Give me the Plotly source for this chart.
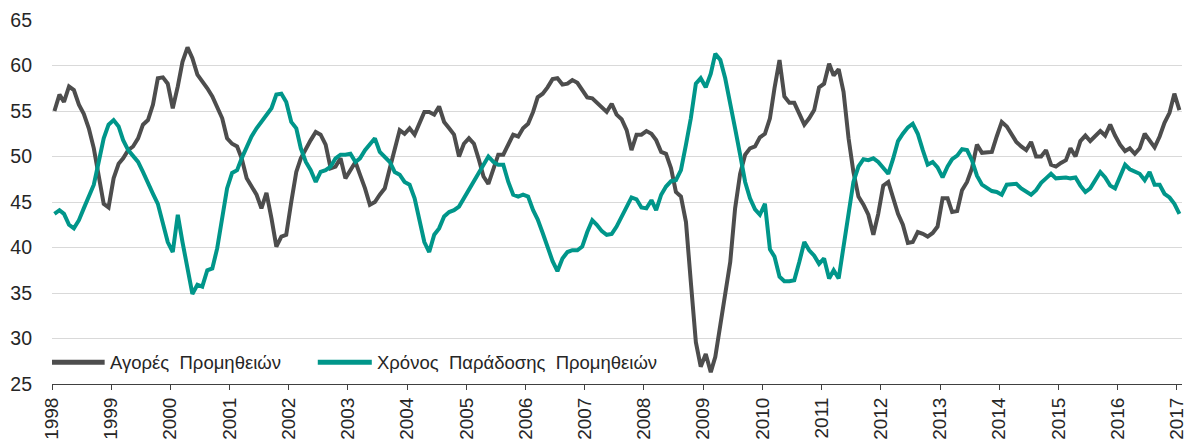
import pandas as pd
import plotly.graph_objects as go

purchases = [
    55.0, 56.8, 56.0, 57.7, 57.3, 55.7, 54.7, 53.1, 50.9, 47.6, 44.8, 44.4,
    47.6, 49.2, 49.8, 50.7, 51.1, 52.0, 53.5, 54.0, 55.7, 58.6, 58.7, 58.0,
    55.3, 57.7, 60.4, 62.0, 60.8, 59.0, 58.3, 57.5, 56.6, 55.3, 54.2, 52.0,
    51.4, 51.1, 49.8, 47.6, 46.7, 45.8, 44.3, 46.0, 43.2, 40.1, 41.2, 41.4,
    45.0, 48.3, 49.8, 50.9, 51.8, 52.7, 52.4, 51.3, 48.7, 48.9, 49.8, 47.6,
    48.5, 49.4, 48.0, 46.5, 44.7, 45.0, 45.8, 46.5, 48.7, 50.9, 52.9, 52.5,
    53.1, 52.4, 53.5, 54.9, 54.9, 54.6, 55.5, 53.8, 53.1, 52.4, 50.0, 51.4,
    52.0, 51.4, 49.8, 47.8, 47.0, 48.7, 50.2, 50.2, 51.4, 52.4, 52.2, 53.1,
    53.6, 54.9, 56.5, 56.9, 57.6, 58.5, 58.6, 57.9, 58.0, 58.4, 58.1, 57.4,
    56.5, 56.4, 55.9, 55.4, 54.9, 55.8, 54.6, 54.1, 52.9, 50.7, 52.4, 52.4,
    52.8, 52.5, 51.8, 50.5, 50.3, 48.7, 46.1, 45.6, 42.8, 36.2, 29.6, 26.9,
    28.3, 26.3, 28.0, 31.5, 35.1, 38.4, 44.3, 48.1, 50.2, 50.9, 51.1, 52.1,
    52.5, 54.2, 57.5, 60.6, 56.6, 55.9, 55.9, 54.8, 53.5, 54.2, 55.1, 57.6,
    58.0, 60.2, 58.9, 59.6, 57.1, 52.0, 48.3, 45.6, 44.7, 43.6, 41.4, 43.7,
    46.8, 47.2, 45.6, 43.7, 42.5, 40.5, 40.6, 41.7, 41.5, 41.2, 41.6, 42.3,
    45.4, 45.4, 43.9, 44.0, 46.3, 47.2, 48.7, 51.3, 50.4, 50.5, 50.5, 52.2,
    53.8, 53.3, 52.5, 51.6, 51.1, 50.7, 51.6, 50.0, 50.0, 50.7, 49.1, 48.9,
    49.3, 49.6, 50.9, 50.0, 51.7, 52.3, 51.7, 52.3, 52.8, 52.3, 53.5, 52.3,
    51.3, 50.6, 50.9, 50.3, 50.9, 52.5, 51.8, 51.0, 52.2, 53.7, 54.8, 56.9,
    55.1,
]

delivery = [
    43.7, 44.1, 43.7, 42.5, 42.1, 43.0, 44.3, 45.6, 46.9, 49.4, 52.0, 53.5,
    54.0, 53.3, 51.8, 50.7, 50.0, 49.4, 48.3, 47.0, 45.9, 44.8, 42.8, 40.6,
    39.5, 43.6, 40.6, 37.7, 34.9, 35.9, 35.7, 37.5, 37.7, 39.9, 43.6, 46.5,
    48.2, 48.5, 49.8, 51.1, 52.2, 53.1, 53.8, 54.6, 55.3, 56.8, 56.9, 56.0,
    53.8, 53.1, 50.9, 49.4, 48.5, 47.2, 48.3, 48.5, 48.9, 49.8, 50.2, 50.2,
    50.3, 49.4, 49.8, 50.7, 51.4, 52.0, 50.5, 50.0, 49.4, 48.3, 48.0, 47.2,
    46.9, 45.4, 43.2, 40.6, 39.5, 41.4, 42.1, 43.4, 43.9, 44.1, 44.5, 45.4,
    46.3, 47.4, 48.2, 49.1, 50.0, 49.4, 49.1, 49.1, 47.2, 45.8, 45.6, 45.8,
    45.6, 44.1, 43.1, 41.6, 40.0, 38.5, 37.4, 38.8, 39.5, 39.7, 39.7, 40.1,
    41.7, 43.0, 42.5, 41.8, 41.4, 41.5, 42.3, 43.4, 44.3, 45.5, 45.3, 44.4,
    44.3, 45.2, 44.1, 45.8, 46.7, 47.3, 47.4, 48.5, 51.3, 54.2, 58.0, 58.6,
    57.6, 59.1, 61.3, 60.6, 58.6, 56.0, 53.1, 50.2, 47.2, 45.4, 44.2, 43.6,
    44.8, 39.8, 39.0, 36.8, 36.3, 36.3, 36.4, 38.4, 40.6, 39.7, 39.1, 38.2,
    38.8, 36.6, 37.5, 36.6, 39.9, 43.6, 47.2, 48.9, 49.7, 49.6, 49.8, 49.4,
    48.7, 48.1, 49.7, 51.7, 52.5, 53.2, 53.6, 52.5, 50.7, 49.1, 49.4, 48.8,
    47.7, 48.9, 49.7, 50.1, 50.8, 50.7, 49.6, 47.9, 46.9, 46.6, 46.2, 46.1,
    45.8, 46.9, 47.0, 47.0, 46.5, 46.1, 45.8, 46.3, 47.1, 47.6, 48.1, 47.6,
    47.7, 47.7, 47.6, 47.7, 46.8, 46.1, 46.5, 47.5, 48.3, 47.7, 46.8, 46.5,
    47.8, 49.1, 48.6, 48.3, 48.1, 47.4, 48.3, 46.9, 46.9, 45.9, 45.5, 44.8,
    43.7,
]

series_names = ["Αγορές Προμηθειών", "Χρόνος Παράδοσης Προμηθειών"]
series_colors = ["#4d4d4d", "#00968a"]

months = pd.date_range("1998-01-01", periods=len(purchases), freq="MS") + pd.Timedelta(days=15)

fig = go.Figure()
for name, vals, col in zip(series_names, [purchases, delivery], series_colors):
    fig.add_trace(go.Scatter(
        x=months, y=vals, mode="lines", name=name, showlegend=False,
        line=dict(color=col, width=4, shape="linear"),
    ))

# Legend drawn as line samples + text labels (in plot-fraction coordinates)
legend_y = 0.06
legend_items = [(0.0, 0.0466, 0.0493), (0.2352, 0.2830, 0.2856)]
for (x0, x1, xt), name, col in zip(legend_items, series_names, series_colors):
    fig.add_shape(type="line", xref="paper", yref="paper",
                  x0=x0, x1=x1, y0=legend_y, y1=legend_y,
                  line=dict(color=col, width=5))
    fig.add_annotation(xref="paper", yref="paper", x=xt, y=legend_y,
                       xanchor="left", yanchor="middle", showarrow=False,
                       text=name.replace(" ", "\u00a0\u00a0"),
                       font=dict(family="Liberation Sans Narrow, Arial Narrow, Liberation Sans",
                                 size=18.5, color="#262626"))

fig.update_layout(
    width=1186, height=437,
    margin=dict(l=44, r=12, t=12, b=61, autoexpand=False),
    paper_bgcolor="white", plot_bgcolor="white",
    font=dict(family="Liberation Sans, Arial, sans-serif", size=19, color="#262626"),
    showlegend=False,
)
fig.update_xaxes(
    type="date", automargin=False,
    range=["1998-01-01", "2017-02-01"],
    tick0="1998-01-01", dtick="M12", tickformat="%Y",
    tickangle=-90,
    showgrid=False, showline=True, linecolor="#404040", linewidth=1,
    ticks="outside", ticklen=5, tickcolor="#404040",
    tickfont=dict(size=19),
)
fig.update_yaxes(
    range=[25, 65], dtick=5, tick0=25, automargin=False,
    showgrid=True, gridcolor="#d9d9d9", gridwidth=1,
    zeroline=False, showline=False, ticks="",
    ticklabelstandoff=19,
    tickfont=dict(size=19.5),
)

fig.write_html("out.html")
